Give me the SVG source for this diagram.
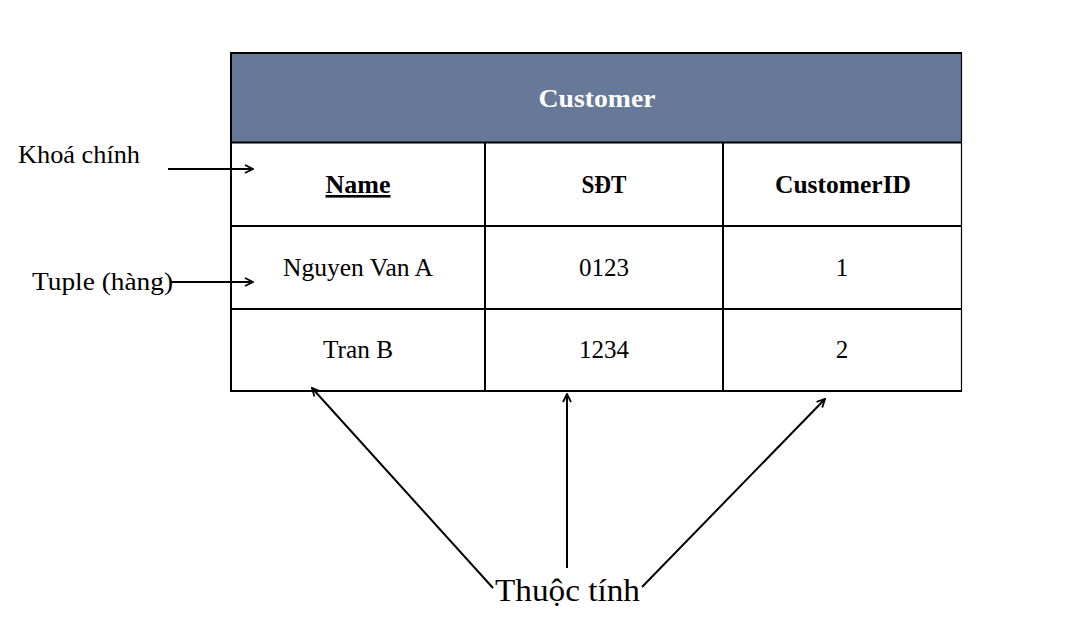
<svg xmlns="http://www.w3.org/2000/svg" width="1078" height="644" viewBox="0 0 1078 644">
<style>
.t{font-family:"Liberation Serif","DejaVu Serif",serif;fill:#000}
.h{font-weight:bold;font-size:26px;text-anchor:middle}
.c{font-size:25px;text-anchor:middle}
.lbl{font-size:25px}
.grid{stroke:#000;stroke-width:2;fill:none}
.conn{stroke:#000;stroke-width:2;fill:none;marker-end:url(#arr)}
</style>
<defs>
<marker id="arr" viewBox="0 0 10 10" refX="9" refY="5" markerWidth="5" markerHeight="5" orient="auto" markerUnits="strokeWidth">
<path d="M1,1 L9,5 L1,9" fill="none" stroke="#000" stroke-width="1.8"/>
</marker>
</defs>
<rect width="1078" height="644" fill="#fff"/>
<g id="table">
<rect x="231" y="53" width="731" height="89" fill="#687899"/>
<line class="grid" x1="230" y1="53" x2="962" y2="53"/>
<line class="grid" x1="231" y1="53" x2="231" y2="392"/>
<line x1="961.5" y1="53" x2="961.5" y2="392" stroke="#000" stroke-width="1.2"/>
<line class="grid" x1="231" y1="142.5" x2="962" y2="142.5"/>
<line class="grid" x1="231" y1="226" x2="962" y2="226"/>
<line class="grid" x1="231" y1="309" x2="962" y2="309"/>
<line class="grid" x1="230" y1="391" x2="962" y2="391"/>
<line class="grid" x1="485" y1="142" x2="485" y2="391"/>
<line class="grid" x1="723" y1="142" x2="723" y2="391"/>
<text class="t h" x="597" y="107" style="fill:#fff" textLength="117" lengthAdjust="spacingAndGlyphs">Customer</text>
<text class="t h" x="358" y="193" text-decoration="underline" textLength="65" lengthAdjust="spacingAndGlyphs">Name</text>
<text class="t h" x="604" y="193" textLength="45" lengthAdjust="spacingAndGlyphs">SĐT</text>
<text class="t h" x="843" y="193" textLength="136" lengthAdjust="spacingAndGlyphs">CustomerID</text>
<text class="t c" x="358" y="276" textLength="150" lengthAdjust="spacingAndGlyphs">Nguyen Van A</text>
<text class="t c" x="604" y="276" textLength="50" lengthAdjust="spacingAndGlyphs">0123</text>
<text class="t c" x="842" y="276">1</text>
<text class="t c" x="358" y="358" textLength="70" lengthAdjust="spacingAndGlyphs">Tran B</text>
<text class="t c" x="604" y="358" textLength="50" lengthAdjust="spacingAndGlyphs">1234</text>
<text class="t c" x="842" y="358">2</text>
</g>
<g id="label-khoa">
<text class="t lbl" x="18" y="163" textLength="122" lengthAdjust="spacingAndGlyphs">Khoá chính</text>
</g>
<g id="label-tuple">
<text class="t lbl" x="32" y="290" textLength="141" lengthAdjust="spacingAndGlyphs">Tuple (hàng)</text>
</g>
<g id="label-thuoctinh">
<text class="t" x="495" y="601" font-size="32" textLength="145" lengthAdjust="spacingAndGlyphs">Thuộc tính</text>
</g>
<g id="connectors">
<line class="conn" x1="168" y1="169" x2="253" y2="169"/>
<line class="conn" x1="170" y1="282" x2="253" y2="282"/>
<line class="conn" x1="493" y1="588" x2="312" y2="388"/>
<line class="conn" x1="567" y1="568" x2="567" y2="394"/>
<line class="conn" x1="642" y1="587" x2="825" y2="399"/>
</g>
</svg>
